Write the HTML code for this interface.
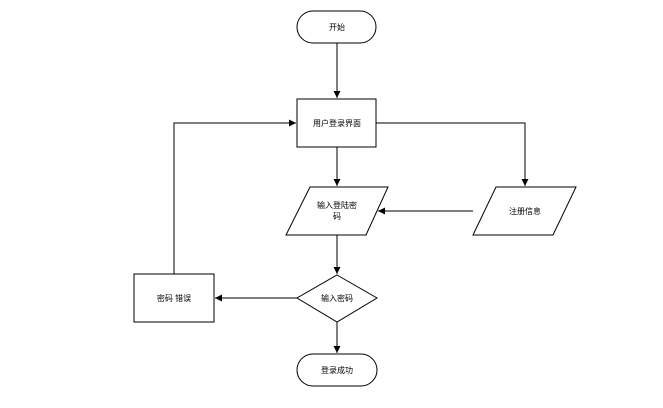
<!DOCTYPE html>
<html><head><meta charset="utf-8"><style>
html,body{margin:0;padding:0;background:#fff;}
text{font-family:"Liberation Sans","Noto Sans CJK SC",sans-serif;font-size:8px;fill:#000;}
</style></head><body>
<svg width="663" height="403" viewBox="0 0 663 403" xmlns="http://www.w3.org/2000/svg">
<defs><marker id="a" markerWidth="8" markerHeight="8" refX="7" refY="4" orient="auto" markerUnits="userSpaceOnUse"><path d="M0,0.5 L7,4 L0,7.5 Z" fill="#000"/></marker></defs>
<g fill="#fff" stroke="#000" stroke-width="1">
<rect x="297" y="11" width="79" height="32" rx="16"/>
<rect x="297" y="99" width="79" height="48"/>
<polygon points="310,187 388,187 366,235 286,235"/>
<polygon points="496,187 576,187 553,235 473,235"/>
<polygon points="337,275 377,298 337,322 297,298"/>
<rect x="134" y="274" width="80" height="48"/>
<rect x="297" y="354" width="80" height="32" rx="16"/>
</g>
<g fill="none" stroke="#000" stroke-width="1" marker-end="url(#a)">
<path d="M337,43 V98"/>
<path d="M376,123 H525 V186"/>
<path d="M337,147 V186"/>
<path d="M473,211 H378"/>
<path d="M337,235 V274"/>
<path d="M297,298 H215"/>
<path d="M174,274 V123 H296"/>
<path d="M337,322 V353"/>
</g>
<g text-anchor="middle">
<text x="337" y="30">开始</text>
<text x="337" y="126">用户登录界面</text>
<text x="337" y="208">输入登陆密</text>
<text x="337" y="219">码</text>
<text x="525" y="214">注册信息</text>
<text x="337" y="301">输入密码</text>
<text x="174" y="301">密码 错误</text>
<text x="337" y="373">登录成功</text>
</g>
</svg>
</body></html>
